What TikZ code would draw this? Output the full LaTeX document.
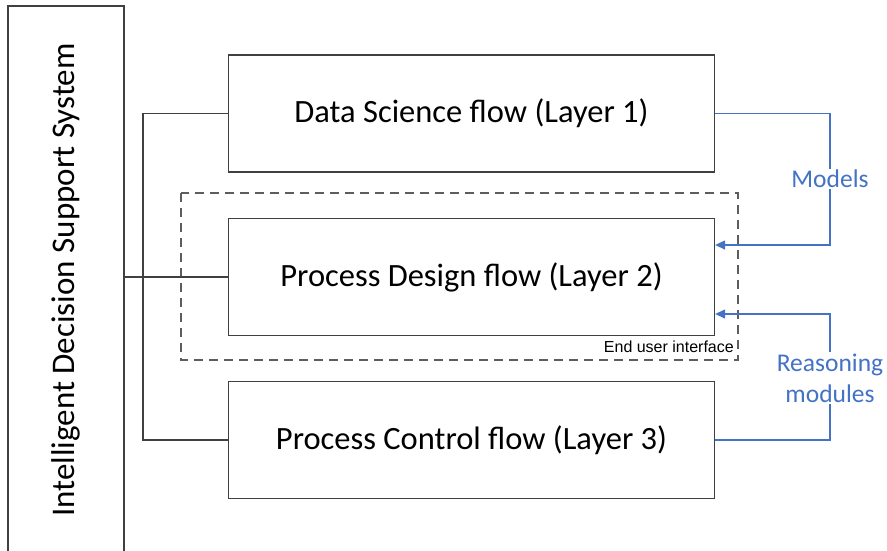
\documentclass[tikz,border=0pt]{standalone}
\usepackage{fontspec}
\setmainfont{Carlito}
\newfontfamily\uifont{Liberation Sans}
\usetikzlibrary{arrows.meta}
\definecolor{boxline}{HTML}{404040}
\definecolor{linkblue}{HTML}{4472C4}
\begin{document}
\begin{tikzpicture}[x=1pt,y=-1pt,
  layerbox/.style={draw=boxline,line width=1.3pt,minimum width=486pt,minimum height=117pt,inner sep=0pt,font=\fontsize{32.5}{36}\selectfont},
  wire/.style={draw=boxline,line width=1.3pt},
  bluewire/.style={draw=linkblue,line width=1.3pt},
  bluearrow/.style={bluewire,-{Triangle[width=9pt,length=10pt]}},
  bluelabel/.style={text=linkblue,font=\fontsize{25.5}{31}\selectfont,align=center,inner sep=1pt}]
\useasboundingbox (0,0) rectangle (887,550);
\clip (0,0) rectangle (887,550);
\fill[white] (0,0) rectangle (887,550);

% system column on the left (runs off the bottom edge)
\draw[boxline,line width=1.3pt] (8,6) rectangle (124,570);
\node[rotate=90,font=\fontsize{33}{36}\selectfont] (idss) at (66,280) {Intelligent Decision Support System};
\coordinate (idssR) at (124,277);

% the three layers
\node[layerbox] (l1) at (471.5,113.5) {Data Science flow (Layer 1)};
\node[layerbox] (l2) at (471.5,277) {Process Design flow (Layer 2)};
\node[layerbox] (l3) at (471.5,440) {Process Control flow (Layer 3)};

% end user interface frame
\draw[boxline!85,line width=1.1pt,dash pattern=on 9pt off 6pt] (181,193) rectangle (738,360);
\node[anchor=base east,font=\uifont\fontsize{16}{18}\selectfont,inner sep=0pt] (eui) at (734,352) {End user interface};

% bus from the system column to the layers
\coordinate (bus) at (143,277);
\draw[wire] (l1.west) -| (143,277) |- (l3.west);
\draw[wire] (idssR) -- (l2.west);

% blue feeds
\node[bluelabel] (models) at (830,179) {Models};
\node[bluelabel] (reason) at (830,378) {Reasoning\\modules};
\draw[bluewire] (l1.east) -| (models.north);
\draw[bluearrow] (models.south) |- ([yshift=32pt]l2.east);
\draw[bluearrow] (reason.north) |- ([yshift=-37pt]l2.east);
\draw[bluewire] (l3.east) -| (reason.south);
\end{tikzpicture}
\end{document}
